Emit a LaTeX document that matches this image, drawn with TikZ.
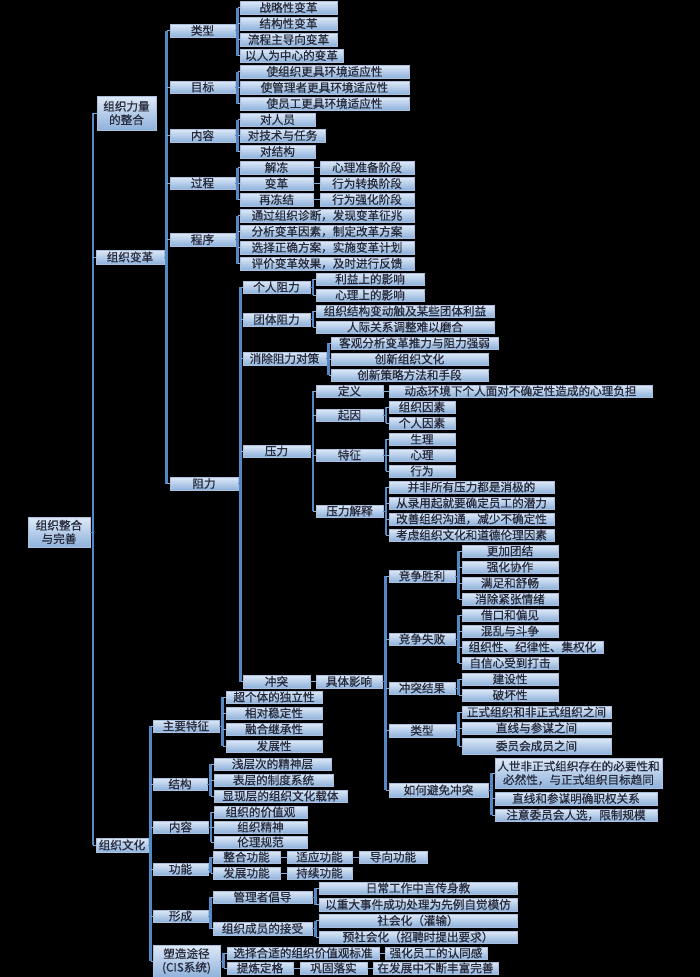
\documentclass[tikz,border=0pt]{standalone}
\usepackage{fontspec}
\setmainfont{Noto Sans CJK SC}[FakeBold=0.6]
\definecolor{barblue}{RGB}{84,137,198}
\definecolor{boxtop}{RGB}{222,233,247}
\definecolor{boxbot}{RGB}{143,178,220}
\definecolor{boxedge}{RGB}{170,192,222}
\definecolor{txt}{RGB}{38,42,58}
\newcommand\mybox[6]{\node[box,minimum width={(#4)-(#2)},minimum height={(#5)-(#3)}] (#1) at ({((#2)+(#4))/2},{((#3)+(#5))/2}) {#6};}
\newcommand\treeconn[3]{%
  \coordinate (B) at (#2,0);
  \draw[stub] (#1.east) -- (B |- #1.east);
  \foreach \c in {#3} {\draw[bar] (B |- #1.east) -- (B |- \c.west);}
  \foreach \c in {#3} {\draw[tick] (B |- \c.west) -- (\c.west);}
}
\newcommand\lk[2]{\draw[tick] (#1.east) -- (#2.west);}
\begin{document}
\begin{tikzpicture}[x=1pt,y=-1pt,
  box/.style={draw=boxedge,line width=0.4pt,top color=boxtop,bottom color=boxbot,inner sep=0pt,text=txt,font=\fontsize{11.6}{13.5}\selectfont,align=center},
  bar/.style={draw=barblue,line width=2.2pt},
  stub/.style={draw=barblue,line width=1pt},
  tick/.style={draw=barblue!70!white,line width=0.9pt}]
\fill[black] (0,0) rectangle (700,977);
\useasboundingbox (0,0) rectangle (700,977);
% root and level 1
\mybox{root}{28}{517}{90}{547}{组织整合\\与完善}
\mybox{La}{97}{96}{156}{130}{组织力量\\的整合}
\mybox{Lb}{96}{250}{164}{264}{组织变革}
\mybox{Lc}{96}{838}{148}{852}{组织文化}
% 组织变革
\mybox{a1}{170}{24}{235}{37}{类型}
\mybox{a2}{170}{81}{235}{93}{目标}
\mybox{a3}{170}{129}{235}{142}{内容}
\mybox{a4}{170}{177}{235}{189}{过程}
\mybox{a5}{170}{233}{235}{246}{程序}
\mybox{a6}{170}{477}{238}{490}{阻力}
\mybox{b1}{240}{1}{337}{14}{战略性变革}
\mybox{b2}{240}{17}{337}{30}{结构性变革}
\mybox{b3}{240}{33}{337}{46}{流程主导向变革}
\mybox{b4}{240}{49}{343}{62}{以人为中心的变革}
\mybox{b5}{240}{65}{409}{78}{使组织更具环境适应性}
\mybox{b6}{240}{81}{409}{94}{使管理者更具环境适应性}
\mybox{b7}{240}{97}{409}{110}{使员工更具环境适应性}
\mybox{b8}{240}{113}{315}{126}{对人员}
\mybox{b9}{240}{129}{325}{142}{对技术与任务}
\mybox{b10}{240}{145}{315}{158}{对结构}
\mybox{b11}{240}{161}{313}{174}{解冻}
\mybox{b12}{240}{177}{313}{190}{变革}
\mybox{b13}{240}{193}{313}{206}{再冻结}
\mybox{c1}{320}{161}{414}{174}{心理准备阶段}
\mybox{c2}{320}{177}{414}{190}{行为转换阶段}
\mybox{c3}{320}{193}{414}{206}{行为强化阶段}
\mybox{b14}{240}{209}{414}{222}{通过组织诊断，发现变革征兆}
\mybox{b15}{240}{225}{414}{238}{分析变革因素，制定改革方案}
\mybox{b16}{240}{241}{414}{254}{选择正确方案，实施变革计划}
\mybox{b17}{240}{257}{414}{270}{评价变革效果，及时进行反馈}
% 阻力
\mybox{d1}{243}{281}{310}{293}{个人阻力}
\mybox{d2}{243}{313}{310}{326}{团体阻力}
\mybox{d3}{243}{352}{326}{365}{消除阻力对策}
\mybox{d4}{243}{445}{310}{457}{压力}
\mybox{d5}{243}{675}{310}{688}{冲突}
\mybox{e1}{316}{273}{424}{285}{利益上的影响}
\mybox{e2}{316}{289}{424}{301}{心理上的影响}
\mybox{e3}{316}{305}{494}{317}{组织结构变动触及某些团体利益}
\mybox{e4}{316}{321}{494}{333}{人际关系调整难以磨合}
\mybox{e5}{331}{337}{498}{349}{客观分析变革推力与阻力强弱}
\mybox{e6}{331}{353}{488}{365}{创新组织文化}
\mybox{e7}{331}{369}{488}{381}{创新策略方法和手段}
\mybox{f1}{316}{385}{383}{397}{定义}
\mybox{f2}{316}{409}{383}{421}{起因}
\mybox{f3}{316}{449}{383}{461}{特征}
\mybox{f4}{316}{505}{383}{517}{压力解释}
\mybox{g1}{389}{385}{652}{397}{动态环境下个人面对不确定性造成的心理负担}
\mybox{g2}{389}{401}{455}{413}{组织因素}
\mybox{g3}{389}{417}{455}{429}{个人因素}
\mybox{g4}{389}{433}{455}{445}{生理}
\mybox{g5}{389}{449}{455}{461}{心理}
\mybox{g6}{389}{465}{455}{477}{行为}
\mybox{g7}{389}{481}{554}{493}{并非所有压力都是消极的}
\mybox{g8}{389}{497}{554}{509}{从录用起就要确定员工的潜力}
\mybox{g9}{389}{513}{554}{525}{改善组织沟通，减少不确定性}
\mybox{g10}{389}{529}{554}{541}{考虑组织文化和道德伦理因素}
\mybox{h1}{316}{675}{382}{688}{具体影响}
\mybox{i1}{389}{570}{455}{582}{竞争胜利}
\mybox{i2}{389}{633}{455}{645}{竞争失败}
\mybox{i3}{389}{682}{455}{694}{冲突结果}
\mybox{i4}{389}{724}{455}{737}{类型}
\mybox{i5}{389}{783}{488}{797}{如何避免冲突}
\mybox{j1}{462}{545}{558}{557}{更加团结}
\mybox{j2}{462}{561}{558}{573}{强化协作}
\mybox{j3}{462}{577}{558}{589}{满足和舒畅}
\mybox{j4}{462}{593}{558}{605}{消除紧张情绪}
\mybox{j5}{462}{609}{558}{621}{借口和偏见}
\mybox{j6}{462}{625}{558}{637}{混乱与斗争}
\mybox{j7}{462}{641}{603}{653}{组织性、纪律性、集权化}
\mybox{j8}{462}{657}{558}{669}{自信心受到打击}
\mybox{j9}{462}{673}{558}{685}{建设性}
\mybox{j10}{462}{689}{558}{701}{破坏性}
\mybox{j11}{462}{706}{611}{718}{正式组织和非正式组织之间}
\mybox{j12}{462}{722}{611}{734}{直线与参谋之间}
\mybox{j13}{462}{738}{611}{754}{委员会成员之间}
\mybox{j14}{495}{758}{662}{788}{人世非正式组织存在的必要性和\\必然性，与正式组织目标趋同}
\mybox{j15}{495}{792}{657}{805}{直线和参谋明确职权关系}
\mybox{j16}{495}{809}{657}{821}{注意委员会人选，限制规模}
% 组织文化
\mybox{k1}{153}{720}{219}{732}{主要特征}
\mybox{k2}{153}{778}{207}{790}{结构}
\mybox{k3}{153}{821}{208}{833}{内容}
\mybox{k4}{153}{863}{208}{875}{功能}
\mybox{k5}{153}{910}{208}{922}{形成}
\mybox{k6}{153}{945}{220}{977}{塑造途径\\(CIS系统)}
\mybox{l1}{226}{691}{322}{703}{超个体的独立性}
\mybox{l2}{226}{707}{322}{719}{相对稳定性}
\mybox{l3}{226}{723}{322}{735}{融合继承性}
\mybox{l4}{226}{740}{322}{752}{发展性}
\mybox{l5}{214}{758}{331}{770}{浅层次的精神层}
\mybox{l6}{214}{774}{333}{786}{表层的制度系统}
\mybox{l7}{214}{790}{347}{802}{显现层的组织文化载体}
\mybox{l8}{214}{806}{307}{818}{组织的价值观}
\mybox{l9}{214}{821}{307}{833}{组织精神}
\mybox{l10}{214}{836}{307}{848}{伦理规范}
\mybox{l11}{213}{851}{280}{863}{整合功能}
\mybox{l12}{213}{867}{280}{879}{发展功能}
\mybox{m1}{287}{851}{352}{863}{适应功能}
\mybox{m2}{359}{851}{427}{863}{导向功能}
\mybox{m3}{287}{867}{352}{879}{持续功能}
\mybox{l13}{213}{891}{312}{903}{管理者倡导}
\mybox{l14}{213}{922}{312}{935}{组织成员的接受}
\mybox{m4}{319}{882}{517}{894}{日常工作中言传身教}
\mybox{m5}{319}{898}{517}{911}{以重大事件成功处理为先例自觉模仿}
\mybox{m6}{319}{914}{517}{927}{社会化（灌输）}
\mybox{m7}{319}{931}{517}{943}{预社会化（招聘时提出要求）}
\mybox{l15}{227}{947}{379}{959}{选择合适的组织价值观标准}
\mybox{m8}{385}{947}{487}{959}{强化员工的认同感}
\mybox{l16}{227}{962}{293}{974}{提炼定格}
\mybox{m9}{300}{962}{367}{974}{巩固落实}
\mybox{m10}{373}{962}{498}{974}{在发展中不断丰富完善}
% connectors
\treeconn{root}{93}{La,Lb,Lc}
\treeconn{Lb}{166.5}{a1,a2,a3,a4,a5,a6}
\treeconn{a1}{237.5}{b1,b2,b3,b4}
\treeconn{a2}{237.5}{b5,b6,b7}
\treeconn{a3}{237.5}{b8,b9,b10}
\treeconn{a4}{237.5}{b11,b12,b13}
\treeconn{a5}{237.5}{b14,b15,b16,b17}
\lk{b11}{c1}\lk{b12}{c2}\lk{b13}{c3}
\treeconn{a6}{240.5}{d1,d2,d3,d4,d5}
\treeconn{d1}{313}{e1,e2}
\treeconn{d2}{313}{e3,e4}
\treeconn{d3}{328.5}{e5,e6,e7}
\treeconn{d4}{313}{f1,f2,f3,f4}
\lk{f1}{g1}
\treeconn{f2}{386}{g2,g3}
\treeconn{f3}{386}{g4,g5,g6}
\treeconn{f4}{386}{g7,g8,g9,g10}
\lk{d5}{h1}
\treeconn{h1}{385.5}{i1,i2,i3,i4,i5}
\treeconn{i1}{458.5}{j1,j2,j3,j4}
\treeconn{i2}{458.5}{j5,j6,j7,j8}
\treeconn{i3}{458.5}{j9,j10}
\treeconn{i4}{458.5}{j11,j12,j13}
\treeconn{i5}{491.5}{j14,j15,j16}
\treeconn{Lc}{150.5}{k1,k2,k3,k4,k5,k6}
\treeconn{k1}{222.5}{l1,l2,l3,l4}
\treeconn{k2}{210.5}{l5,l6,l7}
\treeconn{k3}{211}{l8,l9,l10}
\treeconn{k4}{210.5}{l11,l12}
\lk{l11}{m1}\lk{m1}{m2}\lk{l12}{m3}
\treeconn{k5}{210.5}{l13,l14}
\treeconn{l13}{315.5}{m4,m5}
\treeconn{l14}{315.5}{m6,m7}
\treeconn{k6}{223.5}{l15,l16}
\lk{l15}{m8}\lk{l16}{m9}\lk{m9}{m10}
\end{tikzpicture}
\end{document}
